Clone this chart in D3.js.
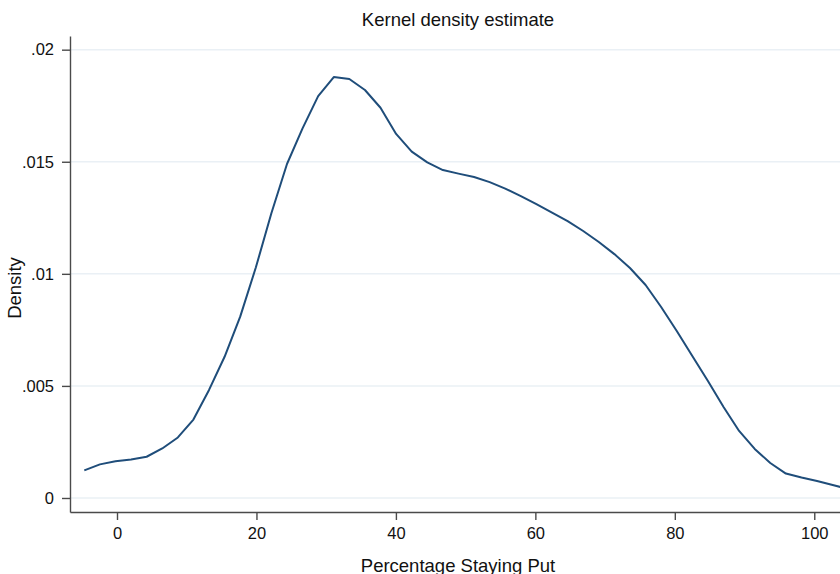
<!DOCTYPE html>
<html>
<head>
<meta charset="utf-8">
<script src="https://cdn.jsdelivr.net/npm/d3@7"></script>
<style>
  html, body { margin: 0; padding: 0; background: #fff; }
  svg { display: block; font-family: "Liberation Sans", Arial, Helvetica, sans-serif; }
</style>
</head>
<body>
<svg id="chart" width="840" height="574"></svg>
<script>
// ---- data ----
const title = "Kernel density estimate";
const xLabel = "Percentage Staying Put";
const yLabel = "Density";

const evalPoints = [-4.69, -2.45, -0.22, 2.02, 4.25, 6.49, 8.73, 10.96, 13.20, 15.43,
  17.67, 19.91, 22.14, 24.38, 26.61, 28.85, 31.09, 33.32, 35.56, 37.79,
  40.03, 42.27, 44.50, 46.74, 48.97, 51.21, 53.45, 55.68, 57.92, 60.15,
  62.39, 64.63, 66.86, 69.10, 71.33, 73.57, 75.81, 78.04, 80.28, 82.51,
  84.75, 86.99, 89.22, 91.46, 93.69, 95.93, 98.17, 100.40, 102.64, 104.87];

const densityValues = [0.00123, 0.00150, 0.00164, 0.00172, 0.00184, 0.00221, 0.00270, 0.00350, 0.00482, 0.00630,
  0.00809, 0.01028, 0.01270, 0.01490, 0.01649, 0.01793, 0.01878, 0.01869, 0.01820, 0.01741,
  0.01624, 0.01545, 0.01497, 0.01463, 0.01447, 0.01432, 0.01409, 0.01380, 0.01347, 0.01311,
  0.01273, 0.01235, 0.01191, 0.01142, 0.01088, 0.01026, 0.00950, 0.00852, 0.00745, 0.00633,
  0.00522, 0.00406, 0.00299, 0.00219, 0.00156, 0.00109, 0.00091, 0.00076, 0.00058, 0.00040];

const xTicks = [0, 20, 40, 60, 80, 100];
const xTickLabels = ["0", "20", "40", "60", "80", "100"];
const yTicks = [0, 0.005, 0.01, 0.015, 0.02];
const yTickLabels = ["0", ".005", ".01", ".015", ".02"];

// ---- layout ----
const plot = { left: 70, right: 840, top: 36, bottom: 512 };
const svg = d3.select("#chart");

const x = d3.scaleLinear().domain([-6.74, 103.69]).range([plot.left, plot.right]);
const y = d3.scaleLinear().domain([-0.000625, 0.02061]).range([plot.bottom, plot.top]);

// clip
svg.append("defs").append("clipPath").attr("id", "clip")
  .append("rect")
  .attr("x", plot.left).attr("y", plot.top)
  .attr("width", plot.right - plot.left).attr("height", plot.bottom - plot.top);

// grid lines
svg.append("g").selectAll("line").data(yTicks).join("line")
  .attr("x1", plot.left + 1).attr("x2", plot.right)
  .attr("y1", d => y(d)).attr("y2", d => y(d))
  .attr("stroke", "#eaf0f5").attr("stroke-width", 1.5);

// curve
const data = evalPoints.map((v, i) => ({ x: v, y: densityValues[i] }));
const line = d3.line().x(d => x(d.x)).y(d => y(d.y));
svg.append("path")
  .datum(data)
  .attr("clip-path", "url(#clip)")
  .attr("fill", "none")
  .attr("stroke", "#1f4d7a")
  .attr("stroke-width", 2)
  .attr("stroke-linejoin", "round")
  .attr("d", line);

// axes
const yAxis = d3.axisLeft(y)
  .tickValues(yTicks)
  .tickFormat((d, i) => yTickLabels[i])
  .tickSizeInner(8).tickSizeOuter(0).tickPadding(8);
const gy = svg.append("g").attr("transform", `translate(${plot.left},0)`).call(yAxis);

const xAxis = d3.axisBottom(x)
  .tickValues(xTicks)
  .tickFormat((d, i) => xTickLabels[i])
  .tickSizeInner(8).tickSizeOuter(0).tickPadding(7);
const gx = svg.append("g").attr("transform", `translate(0,${plot.bottom})`).call(xAxis);

[gx, gy].forEach(g => {
  g.select(".domain").attr("stroke", "#4a4a4a").attr("stroke-width", 1.4);
  g.selectAll(".tick line").attr("stroke", "#4a4a4a").attr("stroke-width", 1.4);
  g.selectAll(".tick text").attr("fill", "#111").style("font-size", "16.5px")
    .style("font-family", '"Liberation Sans", Arial, Helvetica, sans-serif');
});

// titles
svg.append("text")
  .attr("x", 458).attr("y", 26)
  .attr("text-anchor", "middle")
  .style("font-size", "18.5px").attr("fill", "#111")
  .text(title);

svg.append("text")
  .attr("x", 458).attr("y", 571.5)
  .attr("text-anchor", "middle")
  .style("font-size", "18.5px").attr("fill", "#111")
  .text(xLabel);

svg.append("text")
  .attr("transform", "translate(20.5,288) rotate(-90)")
  .attr("text-anchor", "middle")
  .style("font-size", "18.5px").attr("fill", "#111")
  .text(yLabel);
</script>
</body>
</html>
